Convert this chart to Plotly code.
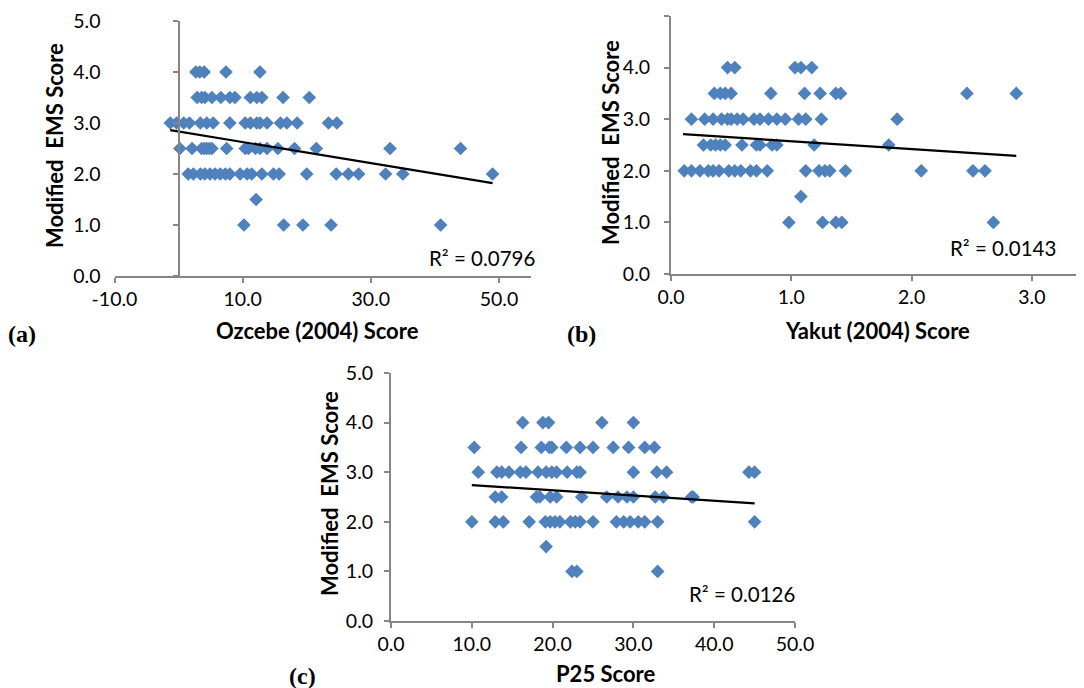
import plotly.graph_objects as go

# ---------------- data ----------------
# Panel (a): Ozcebe (2004) score vs Modified EMS score
a_x = [2.7, 3.3, 4.0, 7.4, 12.7,
       2.9, 3.6, 4.1, 5.2, 6.6, 8.0, 8.8, 11.2, 12.2, 13.0, 16.3, 20.4,
       -1.3, -0.3, 0.8, 1.7, 3.4, 4.4, 5.4, 8.0, 10.4, 11.2, 12.2, 12.7, 13.8, 15.9, 16.9, 18.5, 23.4, 24.7,
       0.2, 2.1, 3.6, 4.0, 4.4, 4.8, 5.2, 7.5, 10.4, 10.9, 12.0, 12.7, 13.8, 15.5, 18.1, 21.5, 33.0, 44.0,
       1.5, 2.3, 3.4, 4.1, 4.9, 5.7, 6.5, 7.3, 8.0, 9.6, 10.7, 11.4, 13.0, 14.8, 15.7, 20.0, 24.6, 26.5, 28.1, 32.3, 35.0, 49.0,
       12.1,
       10.2, 16.4, 19.4, 23.8, 40.9]
a_y = [4.0, 4.0, 4.0, 4.0, 4.0,
       3.5, 3.5, 3.5, 3.5, 3.5, 3.5, 3.5, 3.5, 3.5, 3.5, 3.5, 3.5,
       3.0, 3.0, 3.0, 3.0, 3.0, 3.0, 3.0, 3.0, 3.0, 3.0, 3.0, 3.0, 3.0, 3.0, 3.0, 3.0, 3.0, 3.0,
       2.5, 2.5, 2.5, 2.5, 2.5, 2.5, 2.5, 2.5, 2.5, 2.5, 2.5, 2.5, 2.5, 2.5, 2.5, 2.5, 2.5, 2.5,
       2.0, 2.0, 2.0, 2.0, 2.0, 2.0, 2.0, 2.0, 2.0, 2.0, 2.0, 2.0, 2.0, 2.0, 2.0, 2.0, 2.0, 2.0, 2.0, 2.0, 2.0, 2.0,
       1.5,
       1.0, 1.0, 1.0, 1.0, 1.0]
a_trend_x = [-1.3, 49.0]
a_trend_y = [2.86, 1.82]
a_r2 = "R² = 0.0796"

# Panel (b): Yakut (2004) score vs Modified EMS score
b_x = [0.47, 0.53, 1.03, 1.08, 1.17,
       0.36, 0.41, 0.45, 0.50, 0.83, 1.11, 1.24, 1.37, 1.41, 2.46, 2.87,
       0.17, 0.28, 0.35, 0.42, 0.47, 0.50, 0.55, 0.60, 0.69, 0.74, 0.81, 0.88, 0.95, 1.06, 1.12, 1.25, 1.88,
       0.27, 0.33, 0.37, 0.41, 0.45, 0.59, 0.71, 0.74, 0.84, 0.88, 1.19, 1.81,
       0.11, 0.17, 0.24, 0.31, 0.35, 0.40, 0.48, 0.53, 0.58, 0.66, 0.71, 0.80, 1.12, 1.23, 1.28, 1.32, 1.45, 2.08, 2.51, 2.61,
       1.08,
       0.98, 1.26, 1.37, 1.42, 2.68]
b_y = [4.0, 4.0, 4.0, 4.0, 4.0,
       3.5, 3.5, 3.5, 3.5, 3.5, 3.5, 3.5, 3.5, 3.5, 3.5, 3.5,
       3.0, 3.0, 3.0, 3.0, 3.0, 3.0, 3.0, 3.0, 3.0, 3.0, 3.0, 3.0, 3.0, 3.0, 3.0, 3.0, 3.0,
       2.5, 2.5, 2.5, 2.5, 2.5, 2.5, 2.5, 2.5, 2.5, 2.5, 2.5, 2.5,
       2.0, 2.0, 2.0, 2.0, 2.0, 2.0, 2.0, 2.0, 2.0, 2.0, 2.0, 2.0, 2.0, 2.0, 2.0, 2.0, 2.0, 2.0, 2.0, 2.0,
       1.5,
       1.0, 1.0, 1.0, 1.0, 1.0]
b_trend_x = [0.10, 2.87]
b_trend_y = [2.71, 2.29]
b_r2 = "R² = 0.0143"

# Panel (c): P25 score vs Modified EMS score
c_x = [16.3, 18.8, 19.5, 26.1, 30.0,
       10.3, 16.1, 18.6, 19.6, 19.9, 21.7, 23.4, 25.0, 27.5, 29.4, 31.4, 32.6,
       10.8, 13.1, 13.7, 14.6, 16.0, 16.7, 18.2, 19.2, 19.9, 20.5, 21.8, 23.0, 23.4, 30.0, 32.9, 34.1, 44.3, 45.0,
       12.9, 13.7, 18.0, 18.4, 19.7, 20.5, 23.6, 26.7, 28.1, 29.2, 30.0, 32.7, 33.7, 37.2, 37.4,
       10.0, 12.9, 13.9, 17.1, 19.1, 19.7, 20.3, 20.9, 22.2, 22.8, 23.4, 25.0, 27.9, 28.8, 29.6, 30.6, 31.4, 33.0, 45.0,
       19.2,
       22.4, 23.0, 33.0]
c_y = [4.0, 4.0, 4.0, 4.0, 4.0,
       3.5, 3.5, 3.5, 3.5, 3.5, 3.5, 3.5, 3.5, 3.5, 3.5, 3.5, 3.5,
       3.0, 3.0, 3.0, 3.0, 3.0, 3.0, 3.0, 3.0, 3.0, 3.0, 3.0, 3.0, 3.0, 3.0, 3.0, 3.0, 3.0, 3.0,
       2.5, 2.5, 2.5, 2.5, 2.5, 2.5, 2.5, 2.5, 2.5, 2.5, 2.5, 2.5, 2.5, 2.5, 2.5,
       2.0, 2.0, 2.0, 2.0, 2.0, 2.0, 2.0, 2.0, 2.0, 2.0, 2.0, 2.0, 2.0, 2.0, 2.0, 2.0, 2.0, 2.0, 2.0,
       1.5,
       1.0, 1.0, 1.0]
c_trend_x = [10.0, 45.0]
c_trend_y = [2.74, 2.37]
c_r2 = "R² = 0.0126"

# tick labels
y_tickvals = [0, 1, 2, 3, 4, 5]
y_ticktext = ["0.0", "1.0", "2.0", "3.0", "4.0", "5.0"]
a_tickvals = [-10, 10, 30, 50]
a_ticktext = ["-10.0", "10.0", "30.0", "50.0"]
b_tickvals = [0, 1, 2, 3]
b_ticktext = ["0.0", "1.0", "2.0", "3.0"]
c_tickvals = [0, 10, 20, 30, 40, 50]
c_ticktext = ["0.0", "10.0", "20.0", "30.0", "40.0", "50.0"]

y_title = "Modified  EMS Score"
a_xtitle = "Ozcebe (2004) Score"
b_xtitle = "Yakut (2004) Score"
c_xtitle = "P25 Score"

# ---------------- styling ----------------
OFF = 8                      # page body margin of the html page
W, H = 1084 - OFF, 688 - OFF
MARK = "#4F81BD"
AXC = "#868686"
FONT = "Lato"
TICKF = dict(family=FONT, size=19.5, color="#000000")


def px(x):
    return (x - OFF) / W


def py(y):
    return 1 - (y - OFF) / H


fig = go.Figure()

# (a) markers on x/y, trend line on x/y4 (y4 = the vertical axis crossing at x = 0)
panels = [
    (a_x, a_y, a_trend_x, a_trend_y, "x", "y", "y4"),
    (b_x, b_y, b_trend_x, b_trend_y, "x2", "y2", "y2"),
    (c_x, c_y, c_trend_x, c_trend_y, "x3", "y3", "y3"),
]
for xs, ys, tx, ty, xa, ya, ya_line in panels:
    fig.add_trace(go.Scatter(x=xs, y=ys, mode="markers", xaxis=xa, yaxis=ya,
                             marker=dict(symbol="diamond", size=10.5, color=MARK,
                                         line=dict(width=0))))
    fig.add_trace(go.Scatter(x=tx, y=ty, mode="lines", xaxis=xa, yaxis=ya_line,
                             line=dict(color="#000000", width=2.2)))

common_x = dict(showgrid=False, showline=True, linecolor=AXC, linewidth=2,
                ticks="outside", ticklen=5, tickcolor=AXC, tickwidth=1.5,
                tickfont=TICKF, tickmode="array", automargin=False)
common_y = dict(showgrid=False, zeroline=False, range=[0, 5], tickmode="array",
                tickvals=y_tickvals, ticktext=y_ticktext, tickfont=TICKF,
                automargin=False)

A_LEFT, A_RIGHT = 114.5, 531
A_ZERO = A_LEFT + (A_RIGHT - A_LEFT) * 10 / 65   # pixel of x = 0 in panel (a)

fig.update_layout(
    width=W, height=H,
    margin=dict(l=0, r=0, t=0, b=0, pad=0, autoexpand=False),
    paper_bgcolor="white", plot_bgcolor="white",
    showlegend=False,
    font=dict(family=FONT, color="#000000"),
    xaxis=dict(domain=[px(A_LEFT), px(A_RIGHT)], range=[-10, 55], anchor="y",
               tickvals=a_tickvals, ticktext=a_ticktext,
               zeroline=False, **common_x),
    yaxis=dict(domain=[py(276), py(21)], anchor="x", showline=False, ticks="",
               ticklabelstandoff=13, **common_y),
    yaxis4=dict(overlaying="y", anchor="free", position=px(A_ZERO), side="left",
                range=[0, 5], showgrid=False, zeroline=False, showline=True,
                linecolor=AXC, linewidth=2, ticks="outside", ticklen=5,
                tickcolor=AXC, tickwidth=1.5, tickmode="array", tickvals=y_tickvals,
                showticklabels=False, automargin=False),
    xaxis2=dict(domain=[px(671), 1.0], range=[0, 3.433], anchor="y2",
                tickvals=b_tickvals, ticktext=b_ticktext, zeroline=False, **common_x),
    yaxis2=dict(domain=[py(274), py(16)], anchor="x2", showline=True, linecolor=AXC,
                linewidth=2, ticks="outside", ticklen=5, tickcolor=AXC, tickwidth=1.5,
                ticklabelstandoff=10, **common_y),
    xaxis3=dict(domain=[px(391), px(795)], range=[0, 50], anchor="y3",
                tickvals=c_tickvals, ticktext=c_ticktext, zeroline=False, **common_x),
    yaxis3=dict(domain=[py(621), py(373)], anchor="x3", showline=True, linecolor=AXC,
                linewidth=2, ticks="outside", ticklen=5, tickcolor=AXC, tickwidth=1.5,
                ticklabelstandoff=7, **common_y),
)

TITLEF = dict(family=FONT, size=22, color="#000000")
R2F = dict(family=FONT, size=20.5, color="#000000")
LABF = dict(family="Liberation Serif", size=24, color="#000000")

ann = []
# y axis titles
for xc, yc in [(55, 146), (611, 142), (329, 494)]:
    ann.append(dict(x=px(xc), y=py(yc), text="<b>%s</b>" % y_title, textangle=-90,
                    font=TITLEF))
# x axis titles
for xc, yc, t in [(317, 330, a_xtitle), (877, 330, b_xtitle), (605, 673, c_xtitle)]:
    ann.append(dict(x=px(xc), y=py(yc), text="<b>%s</b>" % t, font=TITLEF))
# R² labels
for xc, yc, t in [(482, 258, a_r2), (1003, 248, b_r2), (742, 594, c_r2)]:
    ann.append(dict(x=px(xc), y=py(yc), text=t, font=R2F))
# panel labels
for xc, yc, t in [(22, 334, "(a)"), (581, 334, "(b)"), (302, 676, "(c)")]:
    ann.append(dict(x=px(xc), y=py(yc), text="<b>%s</b>" % t, font=LABF))

for a in ann:
    a.update(xref="paper", yref="paper", showarrow=False, xanchor="center", yanchor="middle")
fig.update_layout(annotations=ann)

fig.write_html("out.html")
